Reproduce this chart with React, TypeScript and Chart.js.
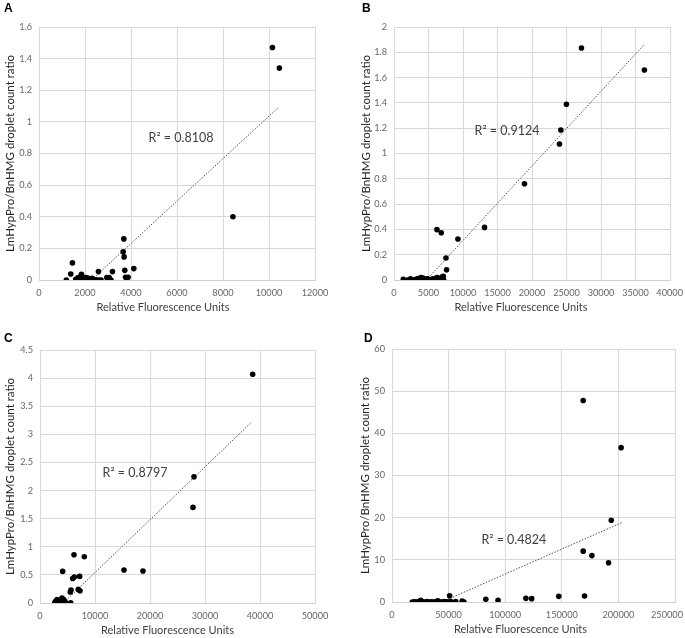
import React, { useEffect, useRef } from 'react';
import { Chart, registerables } from 'chart.js';
Chart.register(...registerables);

// ---------- Panel A ----------
const aX = [1190, 1380, 1453, 1600, 1650, 1700, 1750, 1800, 1845, 1880, 1920, 1960, 2000, 2050, 2100, 2150, 2200, 2250, 2300, 2350, 2400, 2450, 2500, 2585, 2600, 2700, 2950, 3050, 3130, 3194, 3687, 3660, 3700, 3730, 3760, 3875, 4122, 8432, 10150, 10450];
const aY = [0, 0.038, 0.108, 0.005, 0, 0.016, 0.01, 0, 0.036, 0.02, 0.005, 0.01, 0, 0.015, 0.005, 0.01, 0, 0.005, 0.01, 0, 0.003, 0.002, 0, 0.053, 0, 0, 0.015, 0.015, 0, 0.053, 0.26, 0.178, 0.146, 0.061, 0.017, 0.017, 0.072, 0.40, 1.47, 1.34];
const aTrendX = [2280, 10400];
const aTrendY = [0, 1.09];
const aR2 = 'R² = 0.8108';
const aR2At = [6174, 0.898];
const aXTicks = [0, 2000, 4000, 6000, 8000, 10000, 12000];
const aYTicks = [0, 0.2, 0.4, 0.6, 0.8, 1, 1.2, 1.4, 1.6];

// ---------- Panel B ----------
const bX = [1350, 1970, 2400, 2900, 3200, 3400, 3600, 3800, 3910, 4050, 4200, 4400, 4600, 4800, 5000, 5300, 5600, 5900, 6100, 6290, 6500, 6700, 6900, 7000, 7140, 7200, 6226, 6850, 7530, 7620, 9267, 13120, 18910, 23980, 24180, 24990, 27170, 36290];
const bY = [0.005, 0, 0.01, 0, 0.005, 0.01, 0, 0.015, 0.02, 0.01, 0.015, 0.005, 0, 0.01, 0.005, 0, 0.01, 0, 0.015, 0.02, 0.005, 0, 0.01, 0.025, 0.03, 0, 0.398, 0.374, 0.174, 0.081, 0.324, 0.416, 0.761, 1.075, 1.186, 1.389, 1.834, 1.66];
const bTrendX = [4700, 36300];
const bTrendY = [0, 1.863];
const bR2 = 'R² = 0.9124';
const bR2At = [16377, 1.178];
const bXTicks = [0, 5000, 10000, 15000, 20000, 25000, 30000, 35000, 40000];
const bYTicks = [0, 0.2, 0.4, 0.6, 0.8, 1, 1.2, 1.4, 1.6, 1.8, 2];

// ---------- Panel C ----------
const cX = [2700, 2850, 3000, 3100, 3200, 3300, 3400, 3500, 3600, 3700, 3800, 3900, 4000, 4100, 4200, 4300, 4400, 4500, 4700, 4120, 5580, 5510, 5636, 5945, 6236, 6181, 6963, 7272, 7210, 8054, 15270, 18725, 27815, 28000, 38670];
const cY = [0.01, 0.03, 0, 0.06, 0.02, 0, 0.04, 0.01, 0, 0.02, 0.05, 0, 0.09, 0.03, 0, 0.06, 0.01, 0.03, 0, 0.562, 0.005, 0.195, 0.231, 0.437, 0.462, 0.858, 0.242, 0.219, 0.473, 0.822, 0.586, 0.568, 1.70, 2.244, 4.068];
const cTrendX = [4240, 38500];
const cTrendY = [0, 3.22];
const cR2 = 'R² = 0.8797';
const cR2At = [17273, 2.315];
const cXTicks = [0, 10000, 20000, 30000, 40000, 50000];
const cYTicks = [0, 0.5, 1, 1.5, 2, 2.5, 3, 3.5, 4, 4.5];

// ---------- Panel D ----------
const dX = [18000, 20000, 22000, 24000, 25400, 27000, 29000, 31000, 33000, 35000, 37000, 39000, 40500, 42000, 44000, 46000, 48000, 50000, 52000, 50900, 56300, 62000, 63500, 82900, 93700, 118300, 123400, 147300, 170100, 168900, 176600, 191300, 193700, 168900, 202400];
const dY = [0, 0.05, 0, 0.1, 0.4, 0.05, 0, 0.1, 0, 0.05, 0, 0.1, 0.3, 0.05, 0, 0.1, 0.05, 0, 0.1, 1.5, 0.1, 0.2, 0, 0.63, 0.4, 0.87, 0.79, 1.34, 1.42, 12.06, 11.0, 9.3, 19.4, 47.8, 36.6];
const dTrendX = [44000, 203600];
const dTrendY = [0, 18.9];
const dR2 = 'R² = 0.4824';
const dR2At = [107660, 14.77];
const dXTicks = [0, 50000, 100000, 150000, 200000, 250000];
const dYTicks = [0, 10, 20, 30, 40, 50, 60];

const yTitle = 'LmHypPro/BnHMG droplet count ratio';
const xTitle = 'Relative Fluorescence Units';

const FONT = 'Lato, "Open Sans", sans-serif';

type Spec = {
  letter: string;
  xs: number[]; ys: number[];
  tx: number[]; ty: number[];
  r2: string; r2At: number[];
  xTicks: number[]; yTicks: number[];
  left: number; top: number; w: number; h: number;
  L: number; T: number; R: number; B: number;
  yTitleX: number; xTitleDx: number;
  letterX: number; letterY: number;
};

const specs: Spec[] = [
  { letter: 'A', xs: aX, ys: aY, tx: aTrendX, ty: aTrendY, r2: aR2, r2At: aR2At, xTicks: aXTicks, yTicks: aYTicks,
    left: 0, top: 0, w: 342, h: 319, L: 39, T: 27, R: 27, B: 280, yTitleX: 10, xTitleDx: -14, letterX: 4, letterY: 1 },
  { letter: 'B', xs: bX, ys: bY, tx: bTrendX, ty: bTrendY, r2: bR2, r2At: bR2At, xTicks: bXTicks, yTicks: bYTicks,
    left: 342, top: 0, w: 343, h: 319, L: 52, T: 27, R: 15, B: 280, yTitleX: 24, xTitleDx: -11, letterX: 20, letterY: 1 },
  { letter: 'C', xs: cX, ys: cY, tx: cTrendX, ty: cTrendY, r2: cR2, r2At: cR2At, xTicks: cXTicks, yTicks: cYTicks,
    left: 0, top: 319, w: 342, h: 319, L: 40, T: 31, R: 27, B: 284, yTitleX: 10, xTitleDx: -10, letterX: 4, letterY: 12 },
  { letter: 'D', xs: dX, ys: dY, tx: dTrendX, ty: dTrendY, r2: dR2, r2At: dR2At, xTicks: dXTicks, yTicks: dYTicks,
    left: 342, top: 319, w: 343, h: 319, L: 50, T: 30, R: 10, B: 283, yTitleX: 23, xTitleDx: -13, letterX: 22, letterY: 12 },
];

const fmt = (v: number) => String(Math.round(v * 1000) / 1000);
const TICK_SIZE = 9.2;

function Panel({ s }: { s: Spec }) {
  const ref = useRef<HTMLCanvasElement | null>(null);
  useEffect(() => {
    if (!ref.current) return;
    const decor = {
      id: 'decor',
      beforeDraw(chart: any) {
        // keep the last x tick label inside the canvas (as the original does)
        const xs = chart.scales.x;
        const items = xs.getLabelItems(chart.chartArea);
        const ctx = chart.ctx;
        ctx.save();
        ctx.font = `${TICK_SIZE}px ${FONT}`;
        for (const it of items) {
          const w = ctx.measureText(String(it.label)).width;
          const maxX = chart.width - 2 - w / 2;
          if (it.options.translation[0] > maxX) it.options.translation[0] = maxX;
        }
        ctx.restore();
      },
      afterDraw(chart: any) {
        const ctx = chart.ctx;
        const ca = chart.chartArea;
        const xs = chart.scales.x;
        const ys = chart.scales.y;
        ctx.save();
        ctx.fillStyle = '#404040';
        ctx.font = `12.5px ${FONT}`;
        ctx.textAlign = 'center';
        ctx.textBaseline = 'middle';
        ctx.fillText(s.r2, xs.getPixelForValue(s.r2At[0]), ys.getPixelForValue(s.r2At[1]));
        ctx.fillStyle = '#404040';
        ctx.font = `11px ${FONT}`;
        ctx.fillText(xTitle, (ca.left + ca.right) / 2 + s.xTitleDx, ca.bottom + 27.5);
        ctx.translate(s.yTitleX, (ca.top + ca.bottom) / 2);
        ctx.rotate(-Math.PI / 2);
        ctx.fillStyle = '#262626';
        ctx.font = `11.5px ${FONT}`;
        ctx.fillText(yTitle, 0, 0);
        ctx.restore();
      },
    };
    const tickFont = { family: FONT, size: TICK_SIZE };
    const chart = new Chart(ref.current, {
      type: 'scatter',
      data: {
        datasets: [
          {
            data: s.xs.map((x, i) => ({ x, y: s.ys[i] })),
            backgroundColor: '#000',
            borderColor: '#000',
            pointRadius: 2.8,
            pointBorderWidth: 0,
          },
          {
            type: 'line',
            data: s.tx.map((x, i) => ({ x, y: s.ty[i] })),
            borderColor: '#505050',
            borderWidth: 1,
            borderDash: [1.5, 1.5],
            pointRadius: 0,
            showLine: true,
            fill: false,
          } as any,
        ],
      },
      options: {
        responsive: false,
        animation: false,
        devicePixelRatio: 1,
        layout: { padding: { left: 0, top: s.T, right: s.R, bottom: 0 } },
        plugins: { legend: { display: false }, tooltip: { enabled: false } },
        scales: {
          x: {
            type: 'linear',
            min: s.xTicks[0],
            max: s.xTicks[s.xTicks.length - 1],
            grid: { color: '#d9d9d9', drawTicks: false },
            border: { color: '#d0d0d0' },
            ticks: { padding: 8, font: tickFont, color: '#666', maxRotation: 0, autoSkip: false, callback: (v: any) => fmt(Number(v)) },
            afterBuildTicks: (sc: any) => { sc.ticks = s.xTicks.map((v) => ({ value: v })); },
            afterFit: (sc: any) => { sc.height = s.h - s.B; sc.paddingLeft = 0; sc.paddingRight = 0; },
          },
          y: {
            type: 'linear',
            min: s.yTicks[0],
            max: s.yTicks[s.yTicks.length - 1],
            grid: { color: '#d9d9d9', drawTicks: false },
            border: { display: false },
            ticks: { padding: 7, font: tickFont, color: '#666', autoSkip: false, callback: (v: any) => fmt(Number(v)) },
            afterBuildTicks: (sc: any) => { sc.ticks = s.yTicks.map((v) => ({ value: v })); },
            afterFit: (sc: any) => { sc.width = s.L; sc.paddingTop = 0; sc.paddingBottom = 0; },
          },
        },
      } as any,
      plugins: [decor],
    });
    return () => chart.destroy();
  }, []);
  return (
    <>
      <canvas
        ref={ref}
        width={s.w}
        height={s.h}
        style={{ position: 'absolute', left: s.left, top: s.top, width: s.w, height: s.h }}
      />
      <div
        style={{
          position: 'absolute',
          left: s.left + s.letterX,
          top: s.top + s.letterY,
          font: 'bold 12px "Liberation Sans", Arial, sans-serif',
          color: '#000',
          lineHeight: '14px',
        }}
      >
        {s.letter}
      </div>
    </>
  );
}

export default function App() {
  return (
    <div style={{ position: 'absolute', left: 0, top: 0, width: 685, height: 638, background: '#fff', overflow: 'hidden' }}>
      {specs.map((s) => (
        <Panel key={s.letter} s={s} />
      ))}
    </div>
  );
}
